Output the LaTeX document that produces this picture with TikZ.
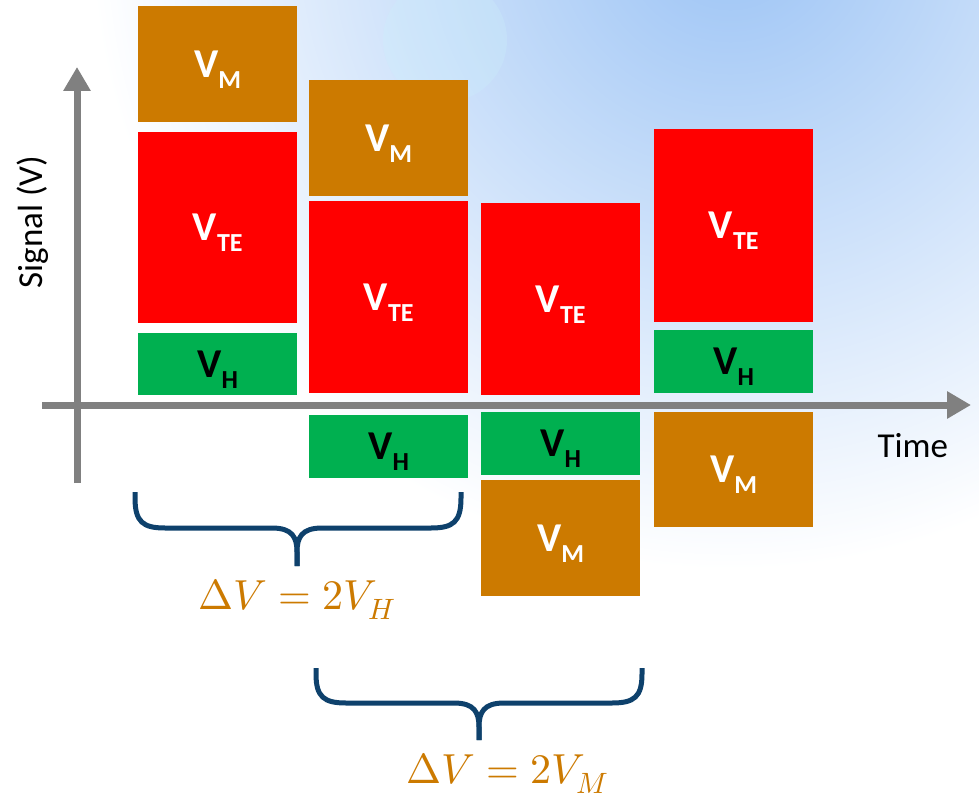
\documentclass[tikz,border=0pt]{standalone}
\usepackage{fontspec}
\usepackage{unicode-math}
\setmainfont{Carlito}
\setmathfont{Latin Modern Math}
\usetikzlibrary{arrows.meta}
\definecolor{vmorange}{RGB}{204,122,0}
\definecolor{vtered}{RGB}{255,0,0}
\definecolor{vhgreen}{RGB}{0,176,80}
\definecolor{axisgray}{RGB}{128,128,128}
\definecolor{bracenavy}{RGB}{14,65,108}
\definecolor{bgblue}{RGB}{155,195,245}
\newcommand{\vlab}[1]{V\raisebox{-11pt}[0pt][0pt]{\fontsize{26}{26}\selectfont #1}}
\tikzset{
  vbox/.style={anchor=north west,inner sep=0pt,minimum width=159pt,
    font=\fontsize{41}{41}\selectfont\bfseries},
  vmbox/.style={vbox,fill=vmorange,text=white,minimum height=116pt},
  vtebox/.style={vbox,fill=vtered,text=white,minimum height=192pt},
  vhbox/.style={vbox,fill=vhgreen,text=black,minimum height=63pt},
  axisline/.style={axisgray,line width=7pt,-{Triangle[length=24pt,width=26pt]}},
  braceline/.style={bracenavy,line width=5pt},
  deltalab/.style={anchor=base west,text=vmorange,font=\fontsize{42}{46}\selectfont}
}
\begin{document}
\begin{tikzpicture}[x=1pt,y=-1pt]
\useasboundingbox (0,0) rectangle (979,794);
% slide background
\fill[white] (0,0) rectangle (979,794);
\shade[inner color=bgblue,outer color=white] (730,-70) circle (640);
\fill[cyan!20,opacity=0.3] (445,40) circle (62);
% axes
\coordinate (ybot) at (77,483);
\coordinate (ytop) at (77,67);
\coordinate (xleft) at (42,405);
\coordinate (xright) at (971,405);
\draw[axisline] (ybot) -- (ytop);
\draw[axisline] (xleft) -- (xright);
\node[rotate=90,anchor=base,font=\fontsize{35}{35}\selectfont] (ylab) at (42,222) {Signal (V)};
\node[anchor=base west,font=\fontsize{35}{35}\selectfont] (xlab) at (874,457) {Time};
% column 1
\node[vmbox] (m1) at (138,6) {\vlab{M}};
\node[vtebox,minimum height=191pt] (te1) at (138,132) {\vlab{TE}};
\node[vhbox,minimum height=62pt] (h1) at (138,333) {\vlab{H}};
% column 2
\node[vmbox] (m2) at (309,80) {\vlab{M}};
\node[vtebox] (te2) at (309,201) {\vlab{TE}};
\node[vhbox] (h2) at (309,415) {\vlab{H}};
% column 3
\node[vtebox] (te3) at (481,203) {\vlab{TE}};
\node[vhbox] (h3) at (481,412) {\vlab{H}};
\node[vmbox] (m3) at (481,480) {\vlab{M}};
% column 4
\node[vtebox,minimum height=193pt] (te4) at (654,129) {\vlab{TE}};
\node[vhbox] (h4) at (654,330) {\vlab{H}};
\node[vmbox,minimum height=115pt] (m4) at (654,412) {\vlab{M}};
% braces
\foreach \l/\c/\r/\t/\h/\p in {135/297/461/492/528/566,316/479/642/668/703/740}{
  \draw[braceline] (\l,\t) -- (\l,\t+6) .. controls (\l,\h-6) and (\l+8,\h) .. (\l+30,\h) -- (\c-25,\h)
    .. controls (\c-5,\h) and (\c,\h+9) .. (\c,\h+24) -- (\c,\p);
  \draw[braceline] (\r,\t) -- (\r,\t+6) .. controls (\r,\h-6) and (\r-8,\h) .. (\r-30,\h) -- (\c+25,\h)
    .. controls (\c+5,\h) and (\c,\h+9) .. (\c,\h+24) -- (\c,\p);
}
\node[deltalab] (dvh) at (195,609) {$\Delta V = 2V_H$};
\node[deltalab] (dvm) at (403,783) {$\Delta V = 2V_M$};
\end{tikzpicture}
\end{document}
